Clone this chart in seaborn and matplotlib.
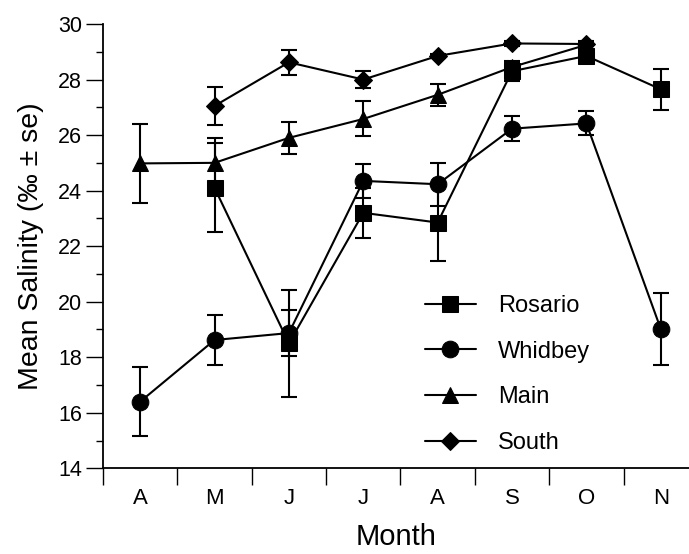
import numpy as np
import pandas as pd
import matplotlib
matplotlib.use("Agg")
import matplotlib.pyplot as plt
import seaborn as sns

months = ['A', 'M', 'J', 'J', 'A', 'S', 'O', 'N']
sites = ['Rosario', 'Whidbey', 'Main', 'South']
nan = np.nan
rosario = [nan, 24.1, 18.5, 23.2, 22.85, 28.3, 28.85, 27.65]
rosario_se = [nan, 1.6, 1.92, 0.9, 1.37, 0.35, 0.2, 0.73]
whidbey = [16.4, 18.62, 18.87, 24.35, 24.23, 26.23, 26.42, 19.02]
whidbey_se = [1.25, 0.9, 0.83, 0.6, 0.78, 0.46, 0.43, 1.31]
main = [24.98, 25.0, 25.9, 26.58, 27.45, 28.45, 29.25, nan]
main_se = [1.41, 0.91, 0.58, 0.63, 0.4, 0.15, 0.15, nan]
south = [nan, 27.05, 28.62, 28.0, 28.85, 29.3, 29.28, nan]
south_se = [nan, 0.69, 0.45, 0.3, 0.08, 0.08, 0.08, nan]

values = {'Rosario': rosario, 'Whidbey': whidbey, 'Main': main, 'South': south}
errors = {'Rosario': rosario_se, 'Whidbey': whidbey_se, 'Main': main_se, 'South': south_se}
markers = {'Rosario': 's', 'Whidbey': 'o', 'Main': '^', 'South': 'D'}
msizes = {'Rosario': 11, 'Whidbey': 12, 'Main': 12, 'South': 9}

rows = []
for s in sites:
    for i, (v, e) in enumerate(zip(values[s], errors[s])):
        if not np.isnan(v):
            rows.append({'pos': i, 'site': s, 'salinity': v, 'se': e})
df = pd.DataFrame(rows)

sns.set_style('white')
plt.rcParams['font.family'] = ['Liberation Sans', 'DejaVu Sans']
plt.rcParams['text.color'] = 'black'
plt.rcParams['axes.labelcolor'] = 'black'
plt.rcParams['xtick.color'] = 'black'
plt.rcParams['ytick.color'] = 'black'

fig = plt.figure(figsize=(6.89, 5.54), dpi=100)
ax = fig.add_axes([103 / 689, 1 - 468.3 / 554, 1 - 103 / 689, (468.3 - 24) / 554])

for s in ['South', 'Main', 'Whidbey', 'Rosario']:
    d = df[df.site == s]
    ax.errorbar(d.pos, d.salinity, yerr=d.se, fmt='none', ecolor='black',
                elinewidth=1.5, capsize=6, capthick=1.5, zorder=2)
    sns.lineplot(data=d, x='pos', y='salinity', ax=ax, color='black',
                 marker=markers[s], markersize=msizes[s], markeredgecolor='black',
                 markerfacecolor='black', linewidth=1.5, label=s, zorder=3,
                 estimator=None, sort=False)

h, l = ax.get_legend_handles_labels()
order = [l.index(s) for s in sites]
leg = ax.legend([h[i] for i in order], [l[i] for i in order],
                loc='upper left', bbox_to_anchor=(425 / 689, 1 - 295 / 554),
                bbox_transform=fig.transFigure, frameon=False, fontsize=17,
                handlelength=2.15, handletextpad=0.95, labelspacing=1.0,
                borderpad=0, borderaxespad=0)

ax.set_xlim(-0.5, 7.38)
ax.set_ylim(14, 30)
ax.set_xticks(np.arange(8))
ax.set_xticklabels(months)
ax.set_xticks(np.arange(-0.5, 7.5, 1.0), minor=True)
ax.set_yticks(np.arange(14, 31, 2))
ax.set_yticks(np.arange(15, 30, 2), minor=True)
ax.tick_params(axis='x', which='major', length=0, pad=14, labelsize=16)
ax.tick_params(axis='x', which='minor', length=12, width=1.0, direction='out', bottom=True)
ax.tick_params(axis='y', which='major', length=12, width=1.0, direction='out', left=True, labelsize=15.5, pad=3)
ax.tick_params(axis='y', which='minor', length=5, width=1.0, direction='out', left=True)

ax.set_xlabel('Month', fontsize=21, labelpad=10)
ax.set_ylabel('Mean Salinity (‰ ± se)', fontsize=20.5, labelpad=10)

sns.despine(ax=ax)
for sp in ['left', 'bottom']:
    ax.spines[sp].set_linewidth(1.3)
    ax.spines[sp].set_color('black')

fig.savefig('out.png', dpi=100)
